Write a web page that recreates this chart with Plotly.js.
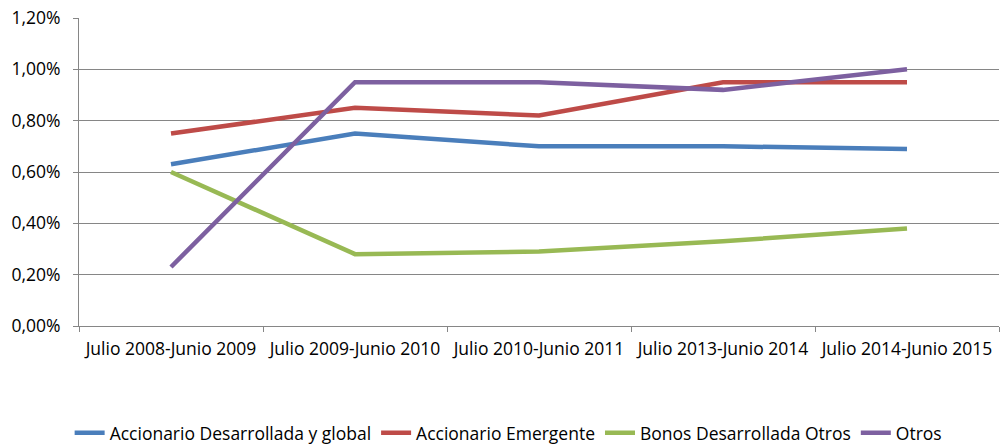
<!DOCTYPE html>
<html>
<head>
<meta charset="utf-8">
<script src="https://cdn.plot.ly/plotly-3.0.1.min.js"></script>
<style>html,body{margin:0;padding:0;background:#fff;}#chart{width:1000px;height:444px;}</style>
</head>
<body>
<div id="chart"></div>
<script>
const categories = ["Julio 2008-Junio 2009", "Julio 2009-Junio 2010", "Julio 2010-Junio 2011", "Julio 2013-Junio 2014", "Julio 2014-Junio 2015"];
const accionarioDesarrollada = [0.0063, 0.0075, 0.0070, 0.0070, 0.0069];
const accionarioEmergente = [0.0075, 0.0085, 0.0082, 0.0095, 0.0095];
const bonosDesarrollada = [0.0060, 0.0028, 0.0029, 0.0033, 0.0038];
const otros = [0.0023, 0.0095, 0.0095, 0.0092, 0.0100];
const seriesNames = ["Accionario Desarrollada y global", "Accionario Emergente", "Bonos Desarrollada Otros", "Otros"];
const seriesColors = ["#4A7EBB", "#BE4B48", "#98B954", "#7D60A0"];
const seriesValues = [accionarioDesarrollada, accionarioEmergente, bonosDesarrollada, otros];

const FONT = "'Open Sans', Lato, sans-serif";
const FS = 17.5;
const traces = seriesValues.map((v, i) => ({
  type: "scatter", mode: "lines", name: seriesNames[i],
  x: categories, y: v,
  line: {color: seriesColors[i], width: 4.5}
}));

const layout = {
  width: 1000, height: 444,
  margin: {l: 79, r: 1, t: 18, b: 118, autoexpand: false},
  paper_bgcolor: "#fff", plot_bgcolor: "#fff",
  separators: ",.",
  font: {family: FONT, size: FS, color: "#000"},
  showlegend: true,
  xaxis: {
    type: "category", tickson: "boundaries", ticks: "outside", ticklen: 5, tickcolor: "#868686",
    showline: true, linecolor: "#868686", linewidth: 1, showgrid: false, zeroline: false,
    tickangle: 0, automargin: false, ticklabelstandoff: 7,
    tickfont: {family: FONT, size: FS, color: "#000"}, range: [-0.5, 4.5]
  },
  yaxis: {
    range: [0, 0.012], dtick: 0.002, tickformat: ".2%", ticks: "outside", ticklen: 5, tickcolor: "#868686",
    showline: true, linecolor: "#868686", linewidth: 1, gridcolor: "#868686", gridwidth: 1, zeroline: false,
    automargin: false, ticklabelstandoff: 9,
    tickfont: {family: FONT, size: FS, color: "#000"}
  },
  legend: {
    orientation: "h", x: 0.467, xanchor: "center", y: -0.347, yanchor: "middle",
    font: {family: FONT, size: FS, color: "#000"}, traceorder: "normal"
  }
};
Plotly.newPlot("chart", traces, layout, {displayModeBar: false, staticPlot: true});
</script>
</body>
</html>
